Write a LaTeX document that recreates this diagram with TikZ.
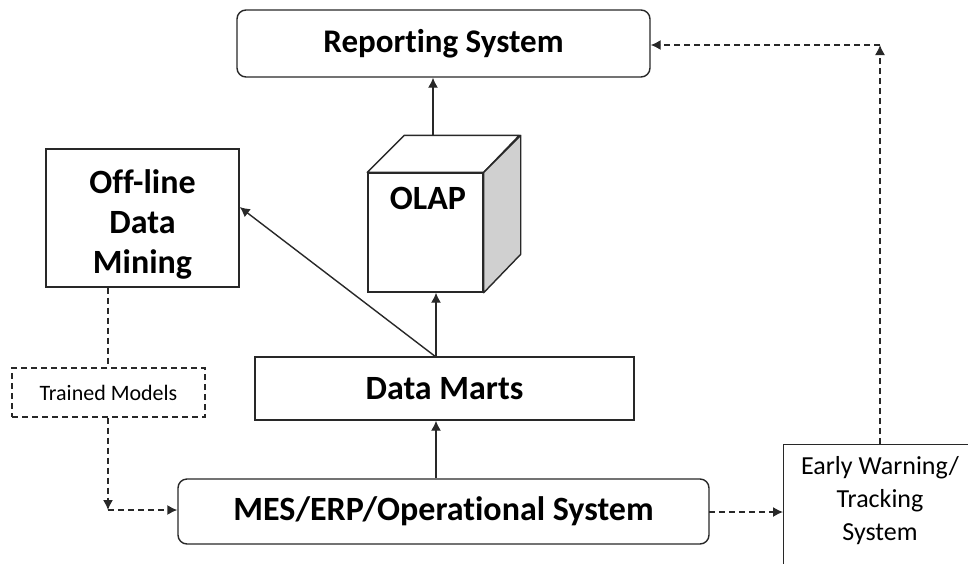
\documentclass[tikz,border=0pt]{standalone}
\usepackage{fontspec}
\setmainfont{Carlito}[Ligatures=NoCommon]
\usetikzlibrary{arrows.meta,calc}
\definecolor{linec}{RGB}{40,40,40}
\definecolor{sidegray}{RGB}{208,208,208}
\tikzset{
  box/.style={draw=linec, line width=1.4pt, fill=white, inner sep=0pt},
  rbox/.style={box, rounded corners=9pt},
  dbox/.style={box, dashed, dash pattern=on 6pt off 4pt, line width=1.2pt},
  big/.style={font=\bfseries\fontsize{34}{40}\selectfont, text=black},
  small/.style={font=\fontsize{22}{26}\selectfont, text=black},
  mid/.style={font=\fontsize{26}{33}\selectfont, text=black},
  arr/.style={draw=linec, line width=1.4pt, -{Latex[length=10pt,width=10pt]}},
  darr/.style={arr, dash pattern=on 6pt off 4pt},
  dline/.style={draw=linec, line width=1.4pt, dash pattern=on 6pt off 4pt},
}
\begin{document}
\begin{tikzpicture}[x=1pt,y=-1pt]
\useasboundingbox (0,0) rectangle (968,563);
\clip (0,0) rectangle (968,563);
\fill[white] (0,0) rectangle (968,563);

% Reporting System
\node[rbox, big, font=\bfseries\fontsize{33}{40}\selectfont, minimum width=413pt, minimum height=67pt] (rep) at (443.5,43.5) {Reporting System};

% OLAP cube
\node[box, minimum width=115pt, minimum height=119pt] (olap) at (425.5,232.5) {};
\draw[draw=linec, line width=1.4pt, fill=white, line join=round]
  (olap.north west) -- ++(37,-37) -- ++(115,0) -- (olap.north east) -- cycle;
\draw[draw=linec, line width=1.4pt, fill=sidegray, line join=round]
  (olap.north east) -- ++(37,-37) -- ++(0,119) -- (olap.south east) -- cycle;
\node[big] (olaptext) at (428,198) {OLAP};
\coordinate (olaptop) at ($(olap.north)+(7.5,-37)$);

% Off-line Data Mining
\node[box, big, align=center, minimum width=193pt, minimum height=138pt] (off) at (142.5,218) {};
\node[big, align=center] (offtext) at (142.5,224) {Off-line\\Data\\Mining};

% Trained Models
\node[dbox, small, minimum width=193pt, minimum height=49pt] (tm) at (108.5,392.5) {Trained Models};

% Data Marts
\node[box, big, minimum width=379pt, minimum height=63pt] (dm) at (444.5,388.5) {Data Marts};

% MES
\node[rbox, big, minimum width=531pt, minimum height=65pt] (mes) at (443.5,511.5) {MES/ERP/Operational System};

% Early Warning (cut off by the frame)
\node[box, anchor=north west, minimum width=240pt, minimum height=160pt] (ews) at (783,444) {};
\node[mid, align=center] (ewstext) at (880,501) {Early Warning/\\Tracking\\System};

% connectors
\coordinate (dmtop) at (436,357);
\draw[arr] (dmtop) -- (olap.south -| dmtop);
\draw[arr] (olaptop) -- (rep.south -| olaptop);
\draw[arr] (dmtop) -- (off.east |- 0,207);
\draw[arr] (mes.north -| dmtop) -- (dm.south -| dmtop);

\draw[dline] (off.south -| 108,0) -- (tm.north -| 108,0);
\coordinate (corner) at (108,510);
\draw[darr] (tm.south -| corner) -- (corner);
\draw[darr] (corner) -- (mes.west |- corner);

\coordinate (mesr) at (709,512);
\draw[darr] (mesr) -- (ews.west |- mesr);
\coordinate (ewscorner) at (880,45);
\draw[darr] (ews.north -| ewscorner) -- (ewscorner);
\draw[darr] (ewscorner) -- (rep.east |- ewscorner);
\end{tikzpicture}
\end{document}
